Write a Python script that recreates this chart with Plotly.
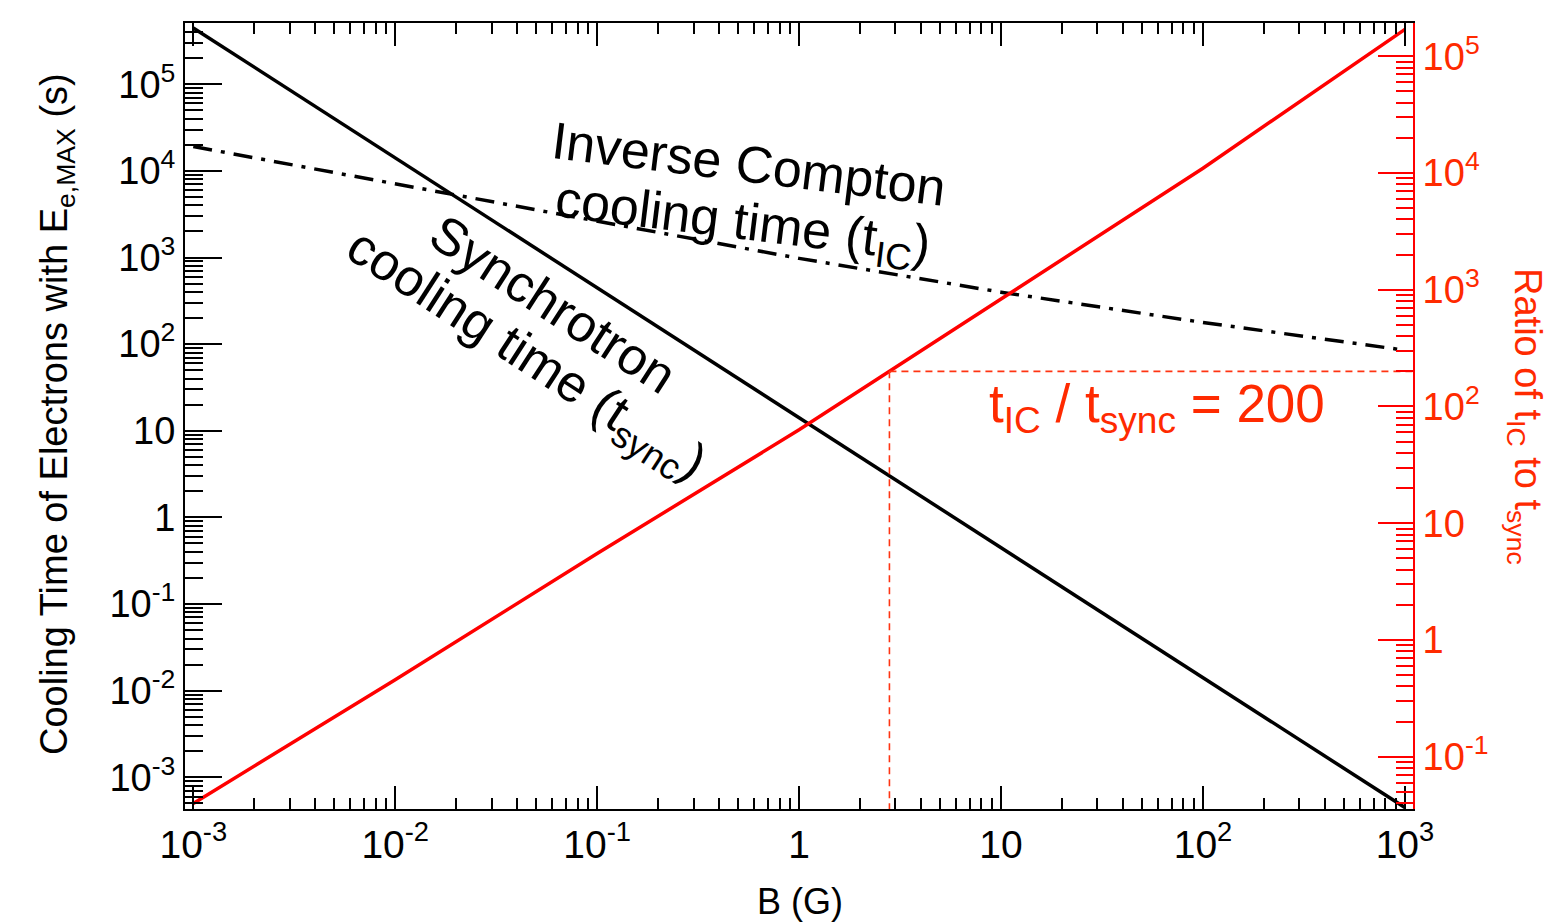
import numpy as np
import plotly.graph_objects as go

# Magnetic field grid (G)
B = [1e-3, 1e-2, 1e-1, 1.0, 1e1, 1e2, 1e3]

# Cooling times (s) of electrons at E_e,MAX
t_sync = [4.47e5, 1.41e4, 447.0, 14.1, 0.447, 0.0141, 4.47e-4]
t_ic = [1.91e4, 7.08e3, 2.63e3, 977.0, 398.0, 178.0, 85.1]

# Ratio t_IC / t_sync (right axis)
ratio = [0.0398, 0.457, 5.50, 63.1, 832.0, 1.10e4, 1.70e5]

# Reference ratio marked on the plot
ratio_mark = 200.0

# Axis tick values and labels
x_ticks = [1e-3, 1e-2, 1e-1, 1, 10, 100, 1000]
x_labels = ["10<sup>-3</sup>", "10<sup>-2</sup>", "10<sup>-1</sup>", "1", "10",
            "10<sup>2</sup>", "10<sup>3</sup>"]
yl_ticks = [1e-3, 1e-2, 1e-1, 1, 10, 100, 1e3, 1e4, 1e5]
yl_labels = ["10<sup>-3</sup>", "10<sup>-2</sup>", "10<sup>-1</sup>", "1", "10",
             "10<sup>2</sup>", "10<sup>3</sup>", "10<sup>4</sup>", "10<sup>5</sup>"]
yr_ticks = [1e-1, 1, 10, 100, 1e3, 1e4, 1e5]
yr_labels = ["10<sup>-1</sup>", "1", "10", "10<sup>2</sup>", "10<sup>3</sup>",
             "10<sup>4</sup>", "10<sup>5</sup>"]

# Axis ranges (log10)
x_range = [-3.041, 3.04]
yl_range = [-3.366, 5.707]
yr_range = [-1.448, 5.285]

FONT = "Liberation Sans, Arial, Helvetica, sans-serif"
RED_LINE = "#ff0000"
RED_TEXT = "#ff2a00"
RED_DASH = "#ff3412"

# Field at which the ratio reaches the marked value (log-log interpolation)
b_mark = 10 ** np.interp(np.log10(ratio_mark), np.log10(ratio), np.log10(B))


def minor_vals(lo, hi):
    vals = []
    for e in range(lo, hi + 1):
        for m in range(2, 10):
            vals.append(m * 10.0 ** e)
    return vals


fig = go.Figure()

fig.add_trace(go.Scatter(x=B, y=t_sync, mode="lines",
                         line=dict(color="black", width=3.5), showlegend=False))
fig.add_trace(go.Scatter(x=B, y=t_ic, mode="lines",
                         line=dict(color="black", width=3.5, dash="19px,9px,4px,9px"),
                         showlegend=False))
fig.add_trace(go.Scatter(x=B, y=ratio, mode="lines", yaxis="y2",
                         line=dict(color=RED_LINE, width=3.5), showlegend=False))

# Dashed guides for the marked ratio
fig.add_trace(go.Scatter(x=[b_mark, 10 ** x_range[1]], y=[ratio_mark, ratio_mark],
                         mode="lines", yaxis="y2", showlegend=False,
                         line=dict(color=RED_DASH, width=1.6, dash="7px,5px")))
fig.add_trace(go.Scatter(x=[b_mark, b_mark], y=[ratio_mark, 10 ** yr_range[0]],
                         mode="lines", yaxis="y2", showlegend=False,
                         line=dict(color=RED_DASH, width=1.6, dash="7px,5px")))

L, R, T, Bm = 185, 149, 23, 113
W, H = 1562, 922
PW, PH = W - L - R, H - T - Bm


def px(xp, yp):
    return (xp - L) / PW, (H - Bm - yp) / PH


annos = []


def add_text(xp, yp, text, size, angle=0, color="black"):
    ax, ay = px(xp, yp)
    annos.append(dict(x=ax, y=ay, xref="paper", yref="paper", text=text,
                      showarrow=False, textangle=angle, xanchor="center",
                      yanchor="middle", font=dict(family=FONT, size=size, color=color)))


add_text(749, 164, "Inverse Compton", 52, 7)
add_text(742, 225, "cooling time (t<sub>IC</sub>)", 52, 7)
add_text(553, 304, "Synchrotron", 52, 33)
add_text(525, 357, "cooling time (t<sub>sync</sub>)", 52, 33)
add_text(1157, 407, "t<sub>IC</sub> / t<sub>sync</sub> = 200", 53, 0, RED_TEXT)
add_text(800, 901, "B (G)", 36)
add_text(57, 414, "Cooling Time of Electrons with E<sub>e,MAX</sub> (s)", 38, -90)
add_text(1525, 416, "Ratio of t<sub>IC</sub> to t<sub>sync</sub>", 38, 90, RED_TEXT)

fig.update_layout(
    width=W, height=H,
    margin=dict(l=L, r=R, t=T, b=Bm, pad=0),
    paper_bgcolor="white", plot_bgcolor="white",
    font=dict(family=FONT, color="black"),
    annotations=annos,
    xaxis=dict(type="log", range=x_range, tickmode="array", tickvals=x_ticks,
               ticktext=x_labels, ticks="inside", ticklen=23, tickwidth=2,
               tickcolor="black", showline=True, linecolor="black", linewidth=2,
               mirror="ticks", showgrid=False, zeroline=False,
               tickfont=dict(size=39, family=FONT, color="black"),
               minor=dict(tickmode="array", tickvals=minor_vals(-3, 2),
                          ticks="inside", ticklen=11, tickwidth=2,
                          tickcolor="black", showgrid=False)),
    yaxis=dict(type="log", range=yl_range, tickmode="array", tickvals=yl_ticks,
               ticktext=yl_labels, ticks="inside", ticklen=37, tickwidth=2,
               tickcolor="black", showline=True, linecolor="black", linewidth=2,
               showgrid=False, zeroline=False,
               tickfont=dict(size=38, family=FONT, color="black"),
               minor=dict(tickmode="array", tickvals=minor_vals(-4, 5),
                          ticks="inside", ticklen=18, tickwidth=2,
                          tickcolor="black", showgrid=False)),
    yaxis2=dict(type="log", range=yr_range, overlaying="y", side="right",
                tickmode="array", tickvals=yr_ticks, ticktext=yr_labels,
                ticks="inside", ticklen=35, tickwidth=2, tickcolor=RED_LINE,
                showline=True, linecolor=RED_LINE, linewidth=2,
                showgrid=False, zeroline=False,
                tickfont=dict(size=38, family=FONT, color=RED_TEXT),
                minor=dict(tickmode="array", tickvals=minor_vals(-2, 5),
                           ticks="inside", ticklen=17, tickwidth=2,
                           tickcolor=RED_LINE, showgrid=False)),
)

fig.write_html("out.html")
